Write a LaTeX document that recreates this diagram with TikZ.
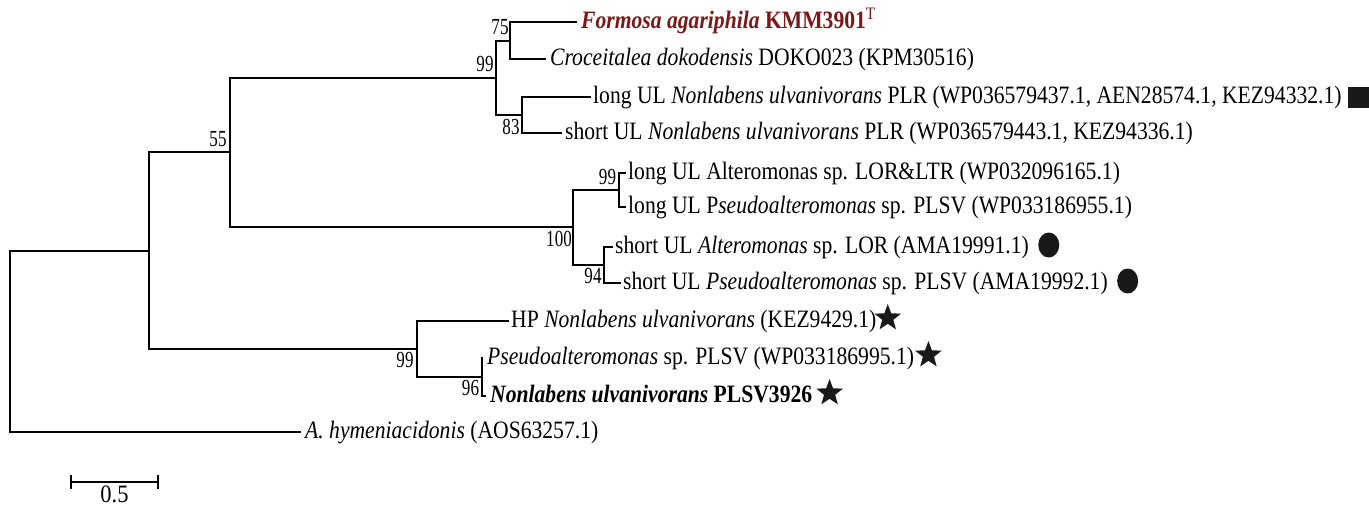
\documentclass[tikz,border=0pt]{standalone}
\usepackage{fontspec}
\setmainfont{Liberation Serif}[FakeStretch=0.865]
\newfontfamily\labfont{Liberation Serif}[FakeStretch=0.74]
\newfontfamily\barfont{Liberation Serif}[FakeStretch=0.9]
\usetikzlibrary{shapes.geometric,calc}
\definecolor{formosared}{RGB}{122,24,24}
\tikzset{
  thn/.style={line width=1.3pt, line cap=rect},
  med/.style={line width=1.8pt, line cap=rect},
  thk/.style={line width=2.7pt, line cap=rect},
  tip/.style={anchor=base west, inner sep=0pt, font=\fontsize{25}{28}\selectfont},
  boot/.style={inner sep=0pt, font=\labfont\fontsize{23}{25}\selectfont},
  starm/.style={star, star points=5, star point ratio=2.4, fill=black!90, draw=none, minimum size=28pt, inner sep=0pt, anchor=west},
  dotm/.style={ellipse, fill=black!90, draw=none, minimum width=21pt, minimum height=25pt, inner sep=0pt, anchor=west},
  sqm/.style={rectangle, fill=black!90, draw=none, minimum size=21pt, inner sep=0pt, anchor=west}
}
\begin{document}
\begin{tikzpicture}[x=1pt,y=-1pt]
\useasboundingbox (0,0) rectangle (1369,506);
% internal nodes
\coordinate (R) at (10,251);
\coordinate (n148) at (149,251);
\coordinate (n55) at (230,152);
\coordinate (n99a) at (496,78);
\coordinate (n75) at (510,41);
\coordinate (n83) at (522,115);
\coordinate (n100) at (573,227);
\coordinate (n99b) at (619,190);
\coordinate (n94) at (604,265);
\coordinate (n99c) at (417,349);
\coordinate (n96) at (482,377);
% tips
\coordinate (tFor) at (576,22);
\coordinate (tCro) at (545,59);
\coordinate (tLUN) at (590,97);
\coordinate (tSUN) at (561,133);
\coordinate (tLUA) at (625,173);
\coordinate (tLUP) at (625,207);
\coordinate (tSUA) at (612,247);
\coordinate (tSUP) at (620,283);
\coordinate (tHP) at (508,321);
\coordinate (tPs) at (482,358);
\coordinate (tNu) at (485,396);
\coordinate (tAh) at (300,432);
% branches
\draw[thk] (R) |- (tAh);
\draw[med] (R) -- (n148);
\draw[med] (n148) |- (n55);
\draw[med] (n148) -- (n148|-n99c);
\draw[thk] (n148|-n99c) -- (n99c);
\draw[med] (n55) -- (n55|-n99a);
\draw[thk] (n55|-n99a) -- (n99a);
\draw[med] (n55) -- (n55|-n100);
\draw[thk] (n55|-n100) -- (n100);
\draw[thn] (n99a) |- (n75);
\draw[thk] (n99a) |- (n83);
\draw[thn] (n75) |- (tFor);
\draw[thn] (n75) |- (tCro);
\draw[thk] (n83) |- (tLUN);
\draw[thn] (n83) |- (tSUN);
\draw[thn] (n100) |- (n99b);
\draw[thk] (n100) |- (n94);
\draw[thn] (n99b) |- (tLUA);
\draw[thn] (n99b) |- (tLUP);
\draw[thk] (n94) |- (tSUA);
\draw[thk] (n94) -- (n94|-tSUP);
\draw[thn] (n94|-tSUP) -- (tSUP);
\draw[thk] (n99c) |- (tHP);
\draw[thk] (n99c) |- (n96);
\draw[thk] (n96) |- (tPs);
\draw[thk] (n96) |- (tNu);
% bootstrap labels
\node[boot] (b75) at (500,27.5) {75};
\node[boot] (b99a) at (485,63.5) {99};
\node[boot] (b83) at (511,126.5) {83};
\node[boot] (b55) at (218,139.5) {55};
\node[boot] (b99b) at (607.5,176.5) {99};
\node[boot] (b100) at (559,238.5) {100};
\node[boot] (b94) at (593,275.5) {94};
\node[boot] (b99c) at (405,360) {99};
\node[boot] (b96) at (470.5,388) {96};
% tip labels
\node[tip, text=formosared] (lFor) at ($(tFor)+(5,6.5)$) {\textbf{\textit{Formosa agariphila}} \textbf{KMM3901}\textsuperscript{T}};
\node[tip] (lCro) at ($(tCro)+(5,6.5)$) {\textit{Croceitalea dokodensis} DOKO023 (KPM30516)};
\node[tip] (lLUN) at ($(tLUN)+(3,6.5)$) {long UL \textit{Nonlabens ulvanivorans} PLR (WP036579437.1, AEN28574.1, KEZ94332.1)};
\node[tip] (lSUN) at ($(tSUN)+(4,6.5)$) {short UL \textit{Nonlabens ulvanivorans} PLR (WP036579443.1, KEZ94336.1)};
\node[tip] (lLUA) at ($(tLUA)+(3,6.5)$) {long UL Alteromonas sp. LOR\&LTR (WP032096165.1)};
\node[tip] (lLUP) at ($(tLUP)+(3,6.5)$) {long UL P\textit{seudoalteromonas} sp. PLSV (WP033186955.1)};
\node[tip] (lSUA) at ($(tSUA)+(3,6.5)$) {short UL \textit{Alteromonas} sp. LOR (AMA19991.1)};
\node[tip] (lSUP) at ($(tSUP)+(3,6.5)$) {short UL \textit{Pseudoalteromonas} sp. PLSV (AMA19992.1)};
\node[tip] (lHP) at ($(tHP)+(3,6.5)$) {HP \textit{Nonlabens ulvanivorans} (KEZ9429.1)};
\node[tip] (lPs) at ($(tPs)+(5,6.5)$) {\textit{Pseudoalteromonas} sp. PLSV (WP033186995.1)};
\node[tip] (lNu) at ($(tNu)+(5,6.5)$) {\textbf{\textit{Nonlabens ulvanivorans} PLSV3926}};
\node[tip] (lAh) at ($(tAh)+(5,6.5)$) {\textit{A. hymeniacidonis} (AOS63257.1)};
% markers
\node[sqm] (mLUN) at ($(lLUN.east|-tLUN)+(6,0)$) {};
\node[dotm] (mSUA) at ($(lSUA.east|-tSUA)+(9,-2)$) {};
\node[dotm] (mSUP) at ($(lSUP.east|-tSUP)+(9,-2)$) {};
\node[starm] (mHP) at ($(lHP.east|-tHP)+(3,-3)$) {};
\node[starm] (mPs) at ($(lPs.east|-tPs)+(6,-3)$) {};
\node[starm] (mNu) at ($(lNu.east|-tNu)+(9,-3)$) {};
% scale bar
\coordinate (sbL) at (71,482);
\coordinate (sbR) at (158,482);
\draw[thk] (sbL) -- (sbR);
\draw[thk] ($(sbL)+(0,-6)$) -- ($(sbL)+(0,6)$);
\draw[thk] ($(sbR)+(0,-6)$) -- ($(sbR)+(0,6)$);
\node[inner sep=0pt, font=\barfont\fontsize{25}{28}\selectfont] (sbT) at (114.5,494) {0.5};
\end{tikzpicture}
\end{document}
